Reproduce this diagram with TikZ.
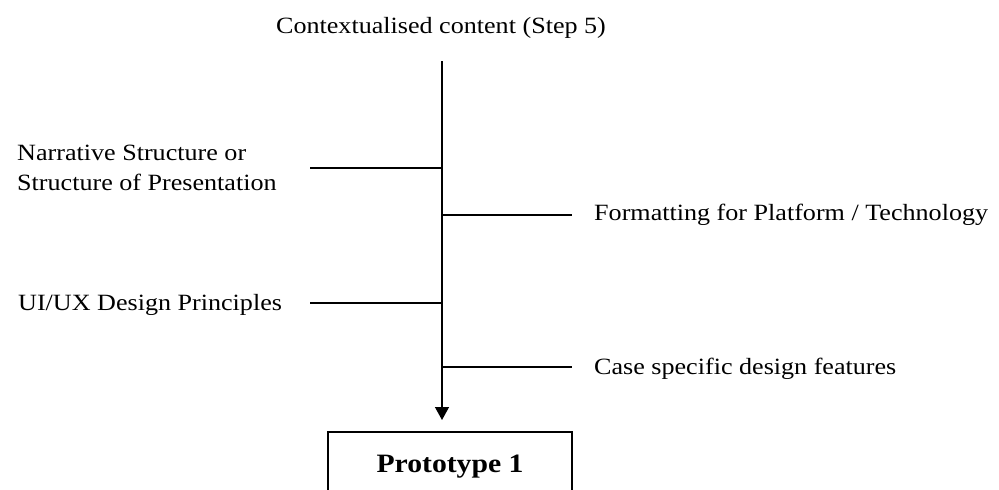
\documentclass[tikz,border=0pt]{standalone}
\usepackage{fontspec}
\setmainfont[FakeStretch=1.12]{Liberation Serif}
\usetikzlibrary{arrows.meta}
\begin{document}
\begin{tikzpicture}[x=1pt,y=-1pt,
  label/.style={inner sep=0pt, font=\fontsize{23.3}{29.5}\selectfont},
  branch/.style={line width=1.3pt},
  trunk/.style={line width=1.3pt, -{Triangle[width=14pt,length=13pt]}},
  protobox/.style={draw, line width=1.5pt, minimum width=244pt, minimum height=70pt,
    inner sep=0pt, font=\fontsize{26.5}{30}\selectfont\bfseries}]
  \clip (0,0) rectangle (999,490);
  \useasboundingbox (0,0) rectangle (999,490);

  % heading and final box
  \node[label, anchor=base] (src) at (441,33) {Contextualised content (Step 5)};
  \node[protobox, anchor=north] (proto) at (450,431) {\raisebox{-3pt}{Prototype 1}};

  % trunk
  \coordinate (top) at (442,61);
  \coordinate (j1) at (442,168);
  \coordinate (j2) at (442,215);
  \coordinate (j3) at (442,303);
  \coordinate (j4) at (442,367);
  \draw[trunk, shorten >=11pt] (top) -- (top |- proto.north);

  % side inputs
  \node[label, anchor=base west, align=left] (nar) at (17,190)
    {Narrative Structure or\\Structure of Presentation};
  \node[label, anchor=base west] (fmt) at (594,220) {Formatting for Platform / Technology};
  \node[label, anchor=base west] (uiux) at (18,310) {UI/UX Design Principles};
  \node[label, anchor=base west] (case) at (594,374) {Case specific design features};

  \coordinate (e1) at (310,168);
  \coordinate (e2) at (572,215);
  \coordinate (e3) at (310,303);
  \coordinate (e4) at (572,367);
  \draw[branch] (e1) -- (j1);
  \draw[branch] (j2) -- (e2);
  \draw[branch] (e3) -- (j3);
  \draw[branch] (j4) -- (e4);
\end{tikzpicture}
\end{document}
